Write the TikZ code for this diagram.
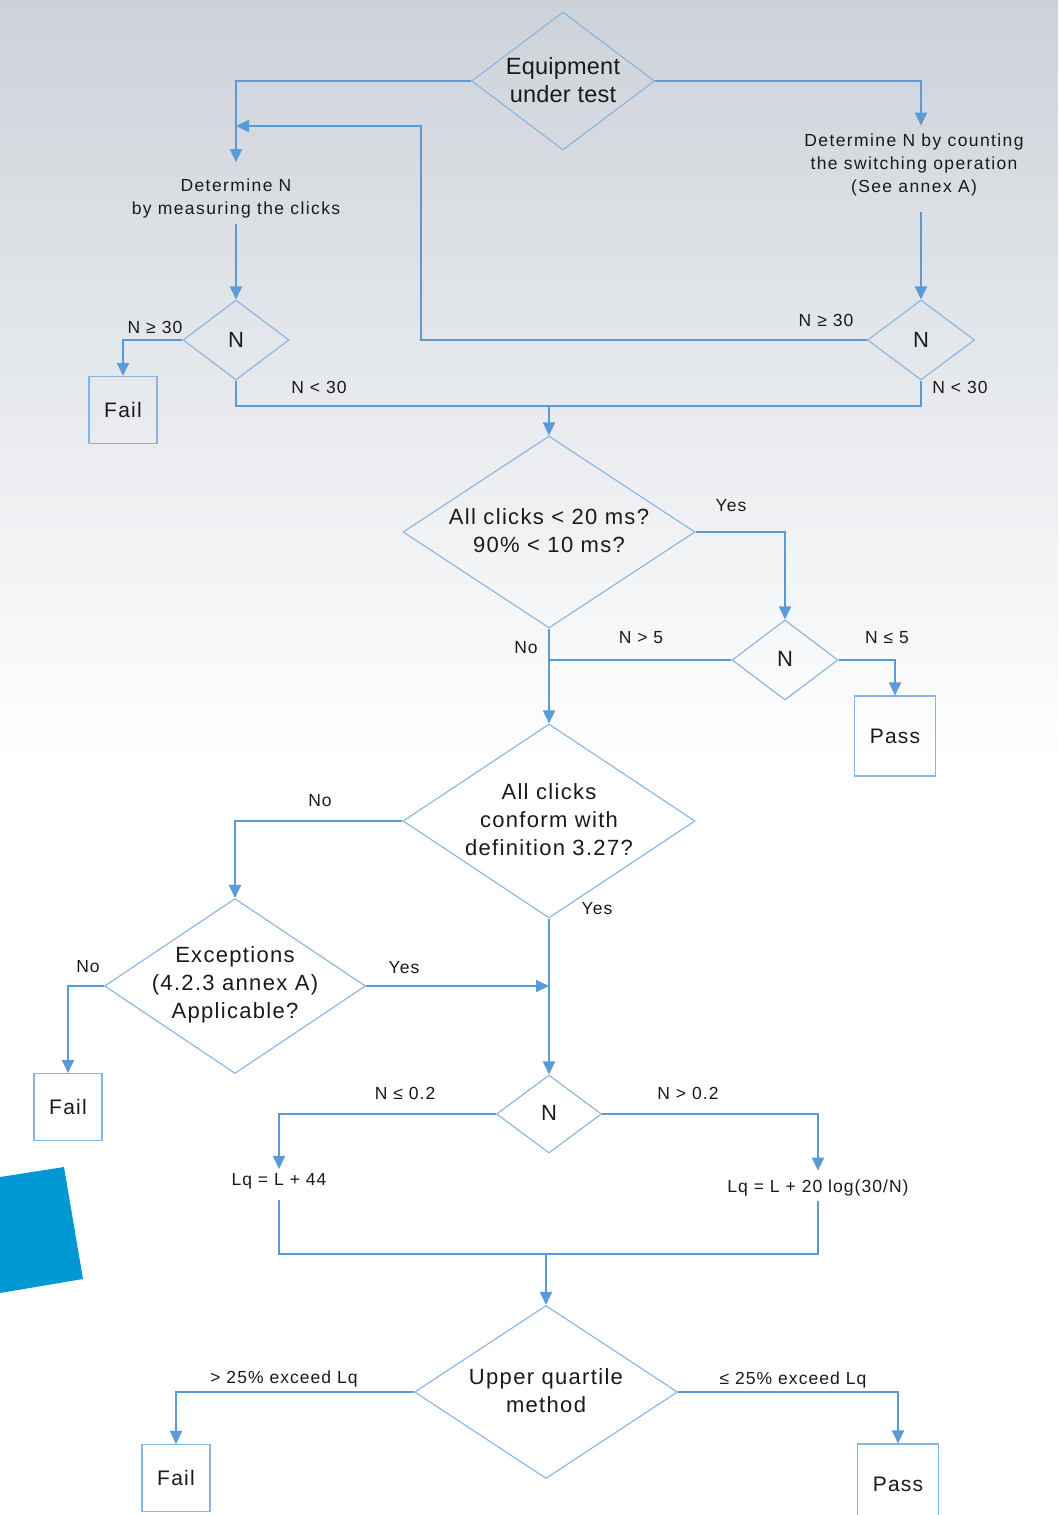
\documentclass[tikz,border=0pt]{standalone}
\usepackage{fontspec}
\setmainfont{Liberation Sans}
\newfontfamily\fbig{Liberation Sans}[LetterSpace=6]
\newfontfamily\fmed{Liberation Sans}[LetterSpace=8]
\newfontfamily\flab{Liberation Sans}[LetterSpace=6]
\newfontfamily\feut{Liberation Sans}[LetterSpace=1]
\usetikzlibrary{shapes.geometric,arrows.meta}
\definecolor{lineblue}{HTML}{5B9BD5}
\definecolor{diablue}{HTML}{86B4E3}
\definecolor{bgtop}{HTML}{CDD2D9}
\definecolor{patch}{HTML}{0098D4}
\definecolor{txt}{HTML}{1A1A1A}
\begin{document}
\begin{tikzpicture}[x=1pt,y=-1pt,
  conn/.style={draw=lineblue,line width=1.8pt},
  arr/.style={conn,-{Triangle[length=13pt,width=12pt]}},
  dia/.style={diamond,draw=diablue,line width=1.1pt,inner sep=0pt},
  box/.style={rectangle,draw=diablue,line width=1.1pt,inner sep=0pt,
     font=\fbig\fontsize{21}{24}\selectfont,text=txt},
  big/.style={font=\fbig\fontsize{22}{28}\selectfont,text=txt,align=center},
  med/.style={font=\fmed\fontsize{17.5}{23}\selectfont,text=txt,align=center},
  lab/.style={font=\flab\fontsize{17.5}{20}\selectfont,text=txt}]
\clip (0,0) rectangle (1058,1515);
\shade[top color=bgtop,bottom color=white] (0,0) rectangle (1058,760);
\fill[white] (0,759) rectangle (1058,1515);
\fill[patch] (0,1177) -- (64,1167) -- (83,1279) -- (0,1293) -- cycle;

% top
\node[dia,minimum width=183pt,minimum height=138pt] (eut) at (563,81) {};
\node[big,font=\feut\fontsize{23.5}{28}\selectfont] (eutT) at (563,80) {Equipment\\under test};
\node[med,inner sep=6pt] (detL) at (236,198) {Determine N\\by measuring the clicks};
\node[med,inner sep=6pt] (detR) at (914,165) {Determine N by counting\\the switching operation\\(See annex A)};
\draw[arr,shorten >=10pt] (eut.west) -| (detL.north);
\draw[arr,shorten >=2pt] (eut.east) -| (detR.north -| 921,0);

\node[dia,minimum width=106pt,minimum height=80pt] (nL) at (236,340) {};
\node[big] (nLT) at (236,340) {N};
\node[dia,minimum width=107pt,minimum height=80pt] (nR) at (921,340) {};
\node[big] (nRT) at (921,340) {N};
\draw[arr] (detL.south) -- (nL.north);
\draw[arr,shorten <=10pt] (detR.south -| nR.north) -- (nR.north);

\node[box,minimum width=68pt,minimum height=67pt] (fail1) at (123,410) {Fail};
\draw[arr] (nL.west) -| (fail1.north);
\node[lab] (l1) at (155,327) {N ≥ 30};
\node[lab] (l2) at (319,387) {N < 30};
\node[lab] (l3) at (826,320) {N ≥ 30};
\node[lab] (l4) at (960,387) {N < 30};

\coordinate (m1) at (549,406);
\coordinate (r1) at (421,126);
\draw[conn] (nL.south) |- (m1);
\draw[conn] (nR.south) |- (m1);
\draw[arr] (nR.west) -| (r1) -- (detL.north |- r1);

% second block
\node[dia,minimum width=292pt,minimum height=192pt] (q1) at (549,532) {};
\node[big] (q1T) at (549,531) {All clicks < 20 ms?\\90\% < 10 ms?};
\draw[arr] (m1) -- (q1.north);
\node[dia,minimum width=106pt,minimum height=80pt] (n2) at (785,660) {};
\node[big] (n2T) at (785,659) {N};
\draw[arr] (q1.east) -| (n2.north);
\node[box,minimum width=81pt,minimum height=80pt] (pass1) at (895,736) {Pass};
\draw[arr] (n2.east) -| (pass1.north);
\draw[conn] (n2.west) -- (q1.south |- n2.west);
\node[lab] (l5) at (731,506) {Yes};
\node[lab] (l6) at (887,638) {N ≤ 5};
\node[lab] (l7) at (641,638) {N > 5};
\node[lab] (l8) at (526,648) {No};

\node[dia,minimum width=292pt,minimum height=194pt] (q2) at (549,821) {};
\node[big] (q2T) at (549,820) {All clicks\\conform with\\definition 3.27?};
\draw[arr] (q1.south) -- (q2.north);

\node[dia,minimum width=261pt,minimum height=175pt] (q3) at (235,986) {};
\node[big] (q3T) at (235,985) {Exceptions\\(4.2.3 annex A)\\Applicable?};
\draw[arr] (q2.west) -| (q3.north);
\node[lab] (l9) at (320,801) {No};
\node[lab] (l10) at (597,909) {Yes};

\node[dia,minimum width=105pt,minimum height=78pt] (n3) at (549,1114) {};
\node[big] (n3T) at (549,1113) {N};
\draw[arr] (q2.south) -- (n3.north);
\draw[arr] (q3.east) -- (q2.south |- q3.east);
\node[lab] (l11) at (404,968) {Yes};

\node[box,minimum width=68pt,minimum height=67pt] (fail2) at (68,1107) {Fail};
\draw[arr] (q3.west) -| (fail2.north);
\node[lab] (l12) at (88,967) {No};

\node[lab,inner sep=2pt] (lq1) at (279,1181) {Lq = L + 44};
\node[lab,inner sep=2pt] (lq2) at (818,1188) {Lq = L + 20 log(30/N)};
\draw[arr,shorten >=2pt] (n3.west) -| (lq1.north);
\draw[arr,shorten >=7pt] (n3.east) -| (lq2.north);
\node[lab] (l13) at (405,1093) {N ≤ 0.2};
\node[lab] (l14) at (688,1093) {N > 0.2};

\coordinate (m2) at (546,1254);
\draw[conn,shorten <=9pt] (lq1.south) |- (m2);
\draw[conn,shorten <=3pt] (lq2.south) |- (m2);

\node[dia,minimum width=263pt,minimum height=173pt] (q4) at (546,1392) {};
\node[big] (q4T) at (546,1391) {Upper quartile\\method};
\draw[arr] (m2) -- (q4.north);

\node[box,minimum width=68pt,minimum height=67pt] (fail3) at (176,1478) {Fail};
\node[box,minimum width=81pt,minimum height=80pt] (pass2) at (898,1484) {Pass};
\draw[arr] (q4.west) -| (fail3.north);
\draw[arr] (q4.east) -| (pass2.north);
\node[lab] (l15) at (284,1379) {> 25\% exceed Lq};
\node[lab] (l16) at (793,1380) {≤ 25\% exceed Lq};
\end{tikzpicture}
\end{document}
